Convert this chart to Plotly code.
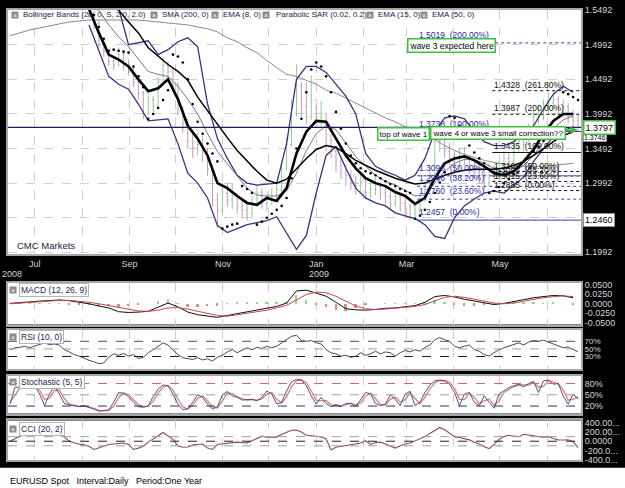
import pandas as pd
import plotly.graph_objects as go

# ---------------- time grids ----------------
GRID_START = pd.Timestamp("2008-06-14 20:40")
STEP_WIDE = pd.Timedelta(days=6.4558)
STEP_FINE = pd.Timedelta(days=3.2279)
BAR_START = pd.Timestamp("2008-08-05 12:10")
X_RANGE = ["2008-06-13 14:00", "2009-06-23 00:00"]

month_ticks = ["2008-07-01", "2008-08-01", "2008-09-01", "2008-10-01", "2008-11-01", "2008-12-01",
               "2009-01-01", "2009-02-01", "2009-03-01", "2009-04-01", "2009-05-01", "2009-06-01"]
month_labels = ["Jul", "", "Sep", "", "Nov", "", "Jan", "", "Mar", "", "May", ""]

price_ticks = [1.5492, 1.4992, 1.4492, 1.3992, 1.3492, 1.2992, 1.2492, 1.1992]
price_tick_text = ["1.5492", "1.4992", "1.4492", "1.3992", "1.3492", "1.2992", "", "1.1992"]

# ---------------- price bars (EURUSD daily, sampled) ----------------
closes = [1.545, 1.530, 1.500, 1.490, 1.475, 1.470, 1.485, 1.470, 1.465, 1.445,
          1.430, 1.400, 1.420, 1.410, 1.445, 1.470, 1.460, 1.440, 1.405, 1.385,
          1.360, 1.350, 1.355, 1.345, 1.320, 1.275, 1.260, 1.285, 1.275, 1.280,
          1.265, 1.260, 1.255, 1.270, 1.285, 1.270, 1.275, 1.280, 1.290, 1.320,
          1.355, 1.400, 1.440, 1.410, 1.395, 1.420, 1.395, 1.400, 1.360, 1.345,
          1.330, 1.315, 1.310, 1.300, 1.295, 1.300, 1.285, 1.290, 1.295, 1.285,
          1.280, 1.270, 1.280, 1.270, 1.265, 1.255, 1.260, 1.275, 1.290, 1.310,
          1.360, 1.360, 1.345, 1.335, 1.325, 1.340, 1.335, 1.320, 1.315, 1.310,
          1.300, 1.320, 1.310, 1.320, 1.335, 1.330, 1.350, 1.360, 1.355, 1.375,
          1.395, 1.395, 1.410, 1.415, 1.420, 1.400, 1.410, 1.395, 1.390, 1.380]
highs = [1.560, 1.548, 1.535, 1.505, 1.492, 1.482, 1.495, 1.490, 1.478, 1.468,
         1.448, 1.432, 1.428, 1.425, 1.452, 1.480, 1.475, 1.465, 1.445, 1.410,
         1.392, 1.375, 1.372, 1.368, 1.350, 1.325, 1.285, 1.300, 1.300, 1.298,
         1.285, 1.278, 1.270, 1.280, 1.298, 1.292, 1.285, 1.292, 1.300, 1.330,
         1.365, 1.420, 1.471, 1.445, 1.445, 1.455, 1.412, 1.418, 1.400, 1.370,
         1.352, 1.338, 1.325, 1.318, 1.310, 1.312, 1.305, 1.302, 1.308, 1.300,
         1.295, 1.288, 1.292, 1.285, 1.278, 1.270, 1.272, 1.285, 1.300, 1.322,
         1.3738, 1.372, 1.365, 1.358, 1.345, 1.350, 1.352, 1.340, 1.330, 1.322,
         1.318, 1.328, 1.325, 1.330, 1.345, 1.342, 1.358, 1.372, 1.368, 1.385,
         1.405, 1.412, 1.420, 1.430, 1.4338, 1.425, 1.420, 1.415, 1.405, 1.400]
lows = [1.538, 1.522, 1.495, 1.482, 1.468, 1.462, 1.468, 1.462, 1.455, 1.438,
        1.420, 1.392, 1.398, 1.400, 1.408, 1.442, 1.450, 1.432, 1.398, 1.372,
        1.350, 1.335, 1.340, 1.330, 1.310, 1.265, 1.235, 1.255, 1.265, 1.262,
        1.255, 1.248, 1.245, 1.248, 1.265, 1.262, 1.258, 1.268, 1.272, 1.285,
        1.318, 1.352, 1.395, 1.395, 1.385, 1.390, 1.385, 1.380, 1.345, 1.335,
        1.315, 1.305, 1.295, 1.290, 1.282, 1.285, 1.275, 1.278, 1.282, 1.275,
        1.268, 1.262, 1.265, 1.258, 1.252, 1.2457, 1.248, 1.255, 1.272, 1.288,
        1.305, 1.345, 1.335, 1.325, 1.315, 1.320, 1.325, 1.312, 1.305, 1.298,
        1.2885, 1.295, 1.302, 1.305, 1.315, 1.320, 1.328, 1.345, 1.345, 1.352,
        1.372, 1.385, 1.390, 1.400, 1.405, 1.392, 1.395, 1.385, 1.380, 1.375]
first_open = 1.552

# ---------------- overlay lines (wide grid) ----------------
ema8 = [None, None, None, None, None, None, None, 1.565, 1.551, 1.5163,
        1.4849, 1.4778, 1.4678, 1.4492, 1.4321, 1.4363, 1.4492, 1.4206, 1.3821, 1.3635,
        1.3392, 1.2992, 1.2920, 1.2806, 1.2706, 1.2678, 1.2778, 1.2735, 1.2920, 1.3420,
        1.3735, 1.3892, 1.3878, 1.3635, 1.3392, 1.3206, 1.3063, 1.2992, 1.2949, 1.2863,
        1.2806, 1.2692, 1.2778, 1.3063, 1.3278, 1.3349, 1.3378, 1.3321, 1.3235, 1.3135,
        1.3106, 1.3163, 1.3306, 1.3478, 1.3706, 1.3892, 1.3992, 1.3992]
ema15 = [None, None, None, None, None, None, None, None, 1.552, 1.5492,
         1.5278, 1.5106, 1.4963, 1.4778, 1.4606, 1.4563, 1.4535, 1.4392, 1.4206, 1.3992,
         1.3706, 1.3449, 1.3278, 1.3106, 1.2920, 1.2820, 1.2806, 1.2806, 1.2878, 1.3135,
         1.3463, 1.3706, 1.3821, 1.3763, 1.3563, 1.3378, 1.3235, 1.3106, 1.3020, 1.2963,
         1.2892, 1.2806, 1.2820, 1.2992, 1.3163, 1.3278, 1.3335, 1.3335, 1.3278, 1.3206,
         1.3149, 1.3163, 1.3249, 1.3392, 1.3592, 1.3778, 1.3906, 1.3963]
ema50 = [None, None, None, None, None, None, None, None, None, None,
         1.556, 1.5492, 1.5321, 1.5163, 1.4949, 1.4821, 1.4706, 1.4606, 1.4478, 1.4235,
         1.4035, 1.3849, 1.3649, 1.3463, 1.3306, 1.3163, 1.3035, 1.2992, 1.3049, 1.3206,
         1.3349, 1.3478, 1.3535, 1.3506, 1.3420, 1.3321, 1.3249, 1.3178, 1.3120, 1.3063,
         1.3020, 1.2978, 1.2992, 1.3049, 1.3106, 1.3149, 1.3178, 1.3192, 1.3192, 1.3192,
         1.3206, 1.3249, 1.3306, 1.3392, 1.3492, 1.3592, 1.3678, 1.3735]
sma200 = [1.5121, 1.5163, 1.5206, 1.5235, 1.5264, 1.5292, 1.5321, 1.5335, 1.5349, 1.5349,
          1.5349, 1.5349, 1.5349, 1.5349, 1.5335, 1.5321, 1.5306, 1.5292, 1.5278, 1.5249,
          1.5221, 1.5178, 1.5092, 1.5035, 1.4949, 1.4878, 1.4763, 1.4663, 1.4563, 1.4535,
          1.4478, 1.4421, 1.4335, 1.4292, 1.4221, 1.4149, 1.4078, 1.4006, 1.3935, 1.3878,
          1.3806, 1.3749, 1.3692, 1.3621, 1.3535, 1.3463, 1.3406, 1.3363, 1.3321, 1.3292,
          1.3263, 1.3249, 1.3235, 1.3235, 1.3235, 1.3249, 1.3263, 1.3278]
bb_upper = [None, None, None, None, None, None, None, None, None, None,
            1.580, 1.5520, 1.4992, 1.5021, 1.5049, 1.4849, 1.4921, 1.5035, 1.5092, 1.4963,
            1.4135, 1.3635, 1.3349, 1.3106, 1.2992, 1.2963, 1.2978, 1.2992, 1.3563, 1.4492,
            1.4678, 1.4678, 1.4592, 1.4421, 1.4249, 1.3992, 1.3420, 1.3235, 1.3163, 1.3106,
            1.3035, 1.3106, 1.3349, 1.3735, 1.3935, 1.3963, 1.3921, 1.3735, 1.3592, 1.3535,
            1.3535, 1.3592, 1.3706, 1.3821, 1.4063, 1.4278, 1.4392, 1.4306]
bb_lower = [None, None, None, None, None, None, None, None, 1.5278, 1.4921,
            1.4535, 1.4421, 1.4349, 1.4135, 1.3892, 1.3906, 1.3921, 1.3563, 1.3135, 1.2992,
            1.2778, 1.2378, 1.2278, 1.2335, 1.2392, 1.2421, 1.2449, 1.2506, 1.2278, 1.2035,
            1.2235, 1.2849, 1.3392, 1.3521, 1.3206, 1.2920, 1.2778, 1.2706, 1.2663, 1.2563,
            1.2520, 1.2478, 1.2392, 1.2221, 1.2192, 1.2492, 1.2663, 1.2763, 1.2849, 1.2878,
            1.2849, 1.2963, 1.3078, 1.3306, 1.3492, 1.3663, 1.3749, 1.3806]

# Parabolic SAR (bar grid)
sar = [None, 1.5421, 1.5249, 1.5078, 1.4906, 1.4921, 1.4906, 1.4892, 1.4878, 1.4678,
       1.4535, 1.4378, 1.3921, 1.3992, 1.4078, 1.4192, 1.4335, 1.4849, 1.4821, 1.4735,
       1.4492, 1.4135, 1.3878, 1.3706, 1.3563, 1.3420, 1.3306, 1.2335, 1.2363, 1.2392,
       1.2406, 1.2949, 1.2906, 1.2849, 1.2392, 1.2435, 1.2492, 1.2549, 1.2606, 1.2663,
       1.2778, 1.3063, 1.3492, 1.3921, 1.4306, 1.4635, 1.4735, 1.4678, 1.4535, 1.4306,
       1.4021, 1.3778, 1.3563, 1.3392, 1.3278, 1.3206, 1.3163, 1.3135, 1.3106, 1.3063,
       1.3020, 1.2978, 1.2949, 1.2906, 1.2878, 1.2849, 1.2478, 1.2520, 1.2606, 1.2720,
       1.2850, 1.3000, 1.3150, 1.3963, 1.3935, 1.3821, 1.3678, 1.3535, 1.3435, 1.3349,
       1.3278, 1.2849, 1.2878, 1.2935, 1.2992, 1.3049, 1.3120, 1.3220, 1.3306, 1.3392,
       1.3449, 1.3521, 1.3606, 1.3678, 1.3735, 1.3778, 1.4306, 1.4278, 1.4235, 1.4192]

# ---------------- fibonacci / annotations ----------------
BLUE_FIB_START = "2009-03-08"
BLACK_FIB_START = "2009-04-26"
blue_fib_levels = [1.5019, 1.3738, 1.3098, 1.2946, 1.2760, 1.2457]
blue_fib_pcts = ["200.00%", "100.00%", "50.00%", "38.20%", "23.60%", "0.00%"]
blue_fib_dash = ["dot", "solid", "dot", "dot", "dot", "solid"]
black_fib_levels = [1.4328, 1.3987, 1.3435, 1.3160, 1.3095, 1.3015, 1.2885]
black_fib_pcts = ["261.80%", "200.00%", "100.00%", "50.00%", "38.20%", "23.60%", "0.00%"]
black_fib_dash = ["dot", "dot", "solid", "dot", "dot", "dot", "dot"]
last_price = 1.3797
hidden_price = 1.3746
low_marker = 1.2460

# ---------------- MACD (wide grid) ----------------
macd = [0.001, 0.004, 0.005, 0.007, 0.009, 0.010, 0.008, 0.004, 0.000, -0.006,
        -0.011, -0.021, -0.023, -0.022, -0.020, -0.009, 0.002, -0.008, -0.022, -0.029,
        -0.033, -0.036, -0.031, -0.026, -0.022, -0.018, -0.013, -0.007, 0.002, 0.034,
        0.036, 0.029, 0.020, 0.004, -0.013, -0.016, -0.017, -0.015, -0.012, -0.011,
        -0.008, -0.005, 0.004, 0.019, 0.022, 0.018, 0.012, 0.007, 0.002, -0.002,
        0.001, 0.005, 0.011, 0.016, 0.018, 0.022, 0.021, 0.016]
macd_signal = [0.000, 0.002, 0.004, 0.006, 0.008, 0.009, 0.009, 0.007, 0.004, 0.000,
               -0.005, -0.011, -0.016, -0.019, -0.020, -0.017, -0.011, -0.010, -0.014, -0.020,
               -0.026, -0.031, -0.033, -0.029, -0.025, -0.021, -0.017, -0.011, -0.004, 0.010,
               0.025, 0.031, 0.029, 0.020, 0.006, -0.006, -0.013, -0.015, -0.014, -0.012,
               -0.010, -0.007, -0.002, 0.008, 0.017, 0.020, 0.017, 0.012, 0.006, 0.002,
               0.000, 0.002, 0.007, 0.012, 0.016, 0.019, 0.021, 0.019]

# ---------------- oscillators (fine grid) ----------------
rsi = [48, 53, 54, 57, 53, 57, 63, 66, 61, 63,
       60, 48, 42, 35, 31, 25, 20, 16, 11, 13,
       28, 37, 33, 38, 31, 35, 25, 28, 40, 48,
       57, 66, 60, 48, 35, 27, 25, 22, 27, 21,
       24, 18, 28, 33, 42, 48, 40, 46, 53, 48,
       54, 51, 57, 53, 57, 66, 74, 83, 86, 72,
       70, 72, 66, 63, 48, 40, 37, 31, 33, 28,
       31, 40, 33, 37, 44, 37, 42, 40, 31, 40,
       46, 42, 48, 44, 54, 60, 74, 80, 74, 70,
       57, 53, 57, 60, 48, 44, 35, 31, 40, 48,
       53, 57, 61, 66, 60, 68, 72, 70, 73, 68,
       61, 57, 53, 55, 48, 42]
stoch_k = [25, 69, 71, 74, 71, 74, 52, 21, 52, 74,
           52, 27, 23, 21, 18, 21, 17, 12, 6, 7,
           10, 30, 56, 54, 45, 30, 18, 17, 21, 45,
           65, 76, 74, 52, 25, 10, 13, 30, 50, 43,
           25, 12, 18, 50, 59, 47, 43, 36, 36, 38,
           34, 43, 60, 52, 25, 30, 60, 85, 91, 89,
           74, 47, 25, 43, 27, 18, 24, 18, 27, 27,
           18, 38, 56, 52, 27, 21, 25, 50, 38, 21,
           52, 59, 21, 30, 56, 76, 87, 89, 87, 78,
           56, 21, 52, 56, 30, 21, 47, 30, 14, 52,
           60, 69, 74, 78, 71, 80, 85, 56, 87, 89,
           78, 80, 47, 25, 52, 38]
stoch_d = [30, 50, 68, 72, 72, 72, 62, 38, 40, 62,
           62, 40, 25, 22, 20, 20, 18, 14, 9, 7,
           8, 20, 42, 55, 50, 38, 24, 18, 19, 33,
           55, 70, 75, 63, 38, 18, 12, 22, 40, 47,
           34, 18, 15, 34, 55, 53, 45, 40, 36, 37,
           36, 39, 52, 56, 38, 28, 45, 72, 88, 90,
           82, 60, 36, 34, 35, 23, 21, 21, 23, 27,
           23, 28, 47, 54, 40, 24, 23, 38, 44, 30,
           37, 56, 40, 26, 43, 66, 82, 88, 88, 83,
           67, 38, 37, 54, 43, 26, 34, 39, 22, 33,
           56, 65, 72, 76, 75, 76, 83, 70, 72, 88,
           84, 79, 63, 36, 38, 45]
cci = [0, 60, 110, 150, 170, 175, 130, 140, 170, 230,
       130, 100, 0, -40, -64, -80, -110, -180, -150, -110,
       -70, -60, -50, -40, -70, -180, -150, -110, -20, 60,
       120, 190, 120, 40, -100, -130, -125, -80, -70, -60,
       -150, -180, -70, -60, -50, -40, -20, -30, -35, 10,
       60, 110, 90, 95, 90, 150, 200, 240, 245, 200,
       130, 120, 110, 95, 50, -190, -130, -110, -90, -80,
       -64, -40, 10, -70, -30, -20, -60, -100, -150, -100,
       -60, -40, 10, 60, 100, 170, 240, 300, 250, 180,
       100, 80, 50, 30, -20, -60, -120, -160, -70, 40,
       100, 130, 110, 100, 150, 130, 120, 100, 90, 100,
       60, 30, 25, 30, -10, -140]
rsi_levels = [70, 50, 30]
stoch_levels = [80, 50, 20]
cci_levels = [100, 0, -100]

# ---------------- build ----------------
def grid(start, step, n):
    return [start + i * step for i in range(n)]

d_wide = grid(GRID_START, STEP_WIDE, len(ema8))
d_fine = grid(GRID_START, STEP_FINE, len(rsi))
d_bar = grid(BAR_START, STEP_FINE, len(closes))
opens = [first_open] + closes[:-1]
macd_hist = [m - s for m, s in zip(macd, macd_signal)]

FONT = "Liberation Sans, Arial, sans-serif"
fig = go.Figure()

fig.add_trace(go.Ohlc(x=d_bar, open=opens, high=highs, low=lows, close=closes,
                      increasing=dict(line=dict(color="#8fcf8f", width=1)),
                      decreasing=dict(line=dict(color="#c79bb5", width=1)),
                      tickwidth=0.25, xaxis="x", yaxis="y", hoverinfo="skip"))
fig.add_trace(go.Scatter(x=d_wide, y=sma200, mode="lines", line=dict(color="#8a8a8a", width=1), xaxis="x", yaxis="y"))
fig.add_trace(go.Scatter(x=d_wide, y=bb_upper, mode="lines", line=dict(color="#3f2d86", width=1.3), xaxis="x", yaxis="y"))
fig.add_trace(go.Scatter(x=d_wide, y=bb_lower, mode="lines", line=dict(color="#3f2d86", width=1.3), xaxis="x", yaxis="y"))
fig.add_trace(go.Scatter(x=d_wide, y=ema15, mode="lines", line=dict(color="#7d7090", width=1), xaxis="x", yaxis="y"))
fig.add_trace(go.Scatter(x=d_wide, y=ema50, mode="lines", line=dict(color="#000000", width=1.5), xaxis="x", yaxis="y"))
fig.add_trace(go.Scatter(x=d_wide, y=ema8, mode="lines", line=dict(color="#000000", width=2.6), xaxis="x", yaxis="y"))
fig.add_trace(go.Scatter(x=d_bar, y=sar, mode="markers", marker=dict(color="#000000", size=2.6), xaxis="x", yaxis="y"))

# MACD
fig.add_trace(go.Bar(x=d_wide, y=macd_hist, width=1.2 * 86400000,
                     marker=dict(color=["#8fdc8f" if v >= 0 else "#e08a8a" for v in macd_hist], line=dict(width=0)),
                     xaxis="x2", yaxis="y2"))
fig.add_trace(go.Scatter(x=d_wide, y=macd, mode="lines", line=dict(color="#101010", width=1), xaxis="x2", yaxis="y2"))
fig.add_trace(go.Scatter(x=d_wide, y=macd_signal, mode="lines", line=dict(color="#c84848", width=1), xaxis="x2", yaxis="y2"))
# RSI
fig.add_trace(go.Scatter(x=d_fine, y=rsi, mode="lines", line=dict(color="#4a4a4a", width=1), xaxis="x3", yaxis="y3"))
# Stochastic
fig.add_trace(go.Scatter(x=d_fine, y=stoch_d, mode="lines", line=dict(color="#d88080", width=1.3), xaxis="x4", yaxis="y4"))
fig.add_trace(go.Scatter(x=d_fine, y=stoch_k, mode="lines", line=dict(color="#4a3c78", width=0.9), xaxis="x4", yaxis="y4"))
# CCI
fig.add_trace(go.Scatter(x=d_fine, y=cci, mode="lines", line=dict(color="#8c4c5c", width=1.1), xaxis="x5", yaxis="y5"))

# ---------------- axes ----------------
frame = dict(showline=True, mirror=True, linecolor="#a6a6a6", linewidth=2)
xgrid = dict(type="date", range=X_RANGE, tickvals=month_ticks, showgrid=True, griddash="dash",
             gridcolor="#cfcfcf", gridwidth=1, zeroline=False, ticks="", **frame)
tickfont = dict(family=FONT, size=9, color="#d4d4d4")
tickfont_small = dict(family=FONT, size=8, color="#d4d4d4")

domains = {"y": [0.4642, 1.0], "y2": [0.3102, 0.4013], "y3": [0.2126, 0.2993],
           "y4": [0.1150, 0.1974], "y5": [0.0130, 0.0998]}

layout = dict(
    width=625, height=488, margin=dict(l=8, r=37, t=5, b=22),
    paper_bgcolor="#000000", plot_bgcolor="#ffffff", showlegend=False,
    font=dict(family=FONT, size=9), bargap=0,
    xaxis=dict(anchor="y", ticktext=month_labels, tickfont=tickfont, rangeslider=dict(visible=False), **xgrid),
    yaxis=dict(domain=domains["y"], side="right", range=[1.1963, 1.5494], tickvals=price_ticks,
               ticktext=price_tick_text, tickfont=tickfont, showgrid=True, griddash="dash",
               gridcolor="#cfcfcf", zeroline=False, ticks="", **frame),
)
for i, (rng, tv, tt, tf) in zip(range(2, 6), [
        ([-0.055, 0.055], [0.05, 0.025, 0, -0.025, -0.05], ["0.0500", "0.0250", "0.0000", "-0.0250", "-0.0500"], tickfont),
        ([-3, 101], rsi_levels, ["70%", "50%", "30%"], tickfont_small),
        ([0, 100], stoch_levels, ["80%", "50%", "20%"], tickfont),
        ([-410, 451], [400, 200, 0, -200, -400], ["400.00...", "200.00...", "0.0000", "-200.0...", "-400.0..."], tickfont)]):
    layout[f"xaxis{i}"] = dict(anchor=f"y{i}", matches="x", showticklabels=False, ticktext=[""] * 12, **xgrid)
    layout[f"yaxis{i}"] = dict(domain=domains[f"y{i}"], anchor=f"x{i}", side="right", range=rng, tickvals=tv,
                               ticktext=tt, tickfont=tf, showgrid=False, zeroline=False, ticks="", **frame)
fig.update_layout(**layout)

# ---------------- shapes ----------------
shapes = [dict(type="rect", xref="paper", yref="paper", x0=-0.03, x1=1.08, y0=-0.06, y1=-0.004,
               fillcolor="#ffffff", line=dict(width=0), layer="below")]
for lv, ds in zip(blue_fib_levels, blue_fib_dash):
    shapes.append(dict(type="line", xref="x", yref="y", x0=BLUE_FIB_START, x1=X_RANGE[1], y0=lv, y1=lv,
                       line=dict(color="#3a3ab4", width=1, dash=ds)))
for lv, ds in zip(black_fib_levels, black_fib_dash):
    shapes.append(dict(type="line", xref="x", yref="y", x0=BLACK_FIB_START, x1=X_RANGE[1], y0=lv, y1=lv,
                       line=dict(color="#111111", width=1, dash=ds)))
shapes.append(dict(type="line", xref="paper", yref="y", x0=0, x1=1, y0=last_price, y1=last_price,
                   line=dict(color="#1c1c5c", width=1.3)))
for lv, col in zip(rsi_levels, ["#505050", "#a0a0a0", "#202020"]):
    shapes.append(dict(type="line", xref="paper", yref="y3", x0=0, x1=1, y0=lv, y1=lv, line=dict(color=col, width=1, dash="dash")))
for lv, col in zip(stoch_levels, ["#d06868", "#a0a0a0", "#303080"]):
    shapes.append(dict(type="line", xref="paper", yref="y4", x0=0, x1=1, y0=lv, y1=lv, line=dict(color=col, width=1, dash="dash")))
for lv, col in zip(cci_levels, ["#a0a0a0", "#202020", "#a0a0a0"]):
    shapes.append(dict(type="line", xref="paper", yref="y5", x0=0, x1=1, y0=lv, y1=lv, line=dict(color=col, width=1, dash="dash")))
fig.update_layout(shapes=shapes)

# ---------------- annotations ----------------
ann = []
def icon(xp, yp):
    return dict(xref="paper", yref="paper", x=xp, y=yp, text="×", showarrow=False,
                font=dict(size=7, color="#ffffff", family=FONT), bgcolor="#8a8a8a",
                width=6, height=6, borderpad=0, xanchor="center", yanchor="middle")

legend_items = [("Bollinger Bands (20, 0, S, 2.0, 2.0)", 0.0121, 0.0224),
                ("SMA (200, 0)", 0.2543, 0.2655), ("EMA (8, 0)", 0.3612, 0.3724),
                ("Parabolic SAR (0.02, 0.2)", 0.4509, 0.4638), ("EMA (15, 0)", 0.6319, 0.6414),
                ("EMA (50, 0)", 0.7267, 0.7362)]
for txt, xi, xt in legend_items:
    ann.append(icon(xi, 0.9892))
    ann.append(dict(xref="paper", yref="paper", x=xt, y=0.9892, text=txt, showarrow=False, xanchor="left",
                    yanchor="middle", font=dict(size=8, color="#1c1c50", family=FONT)))

panel_labels = [("MACD (12, 26, 9)", 0.385), ("RSI (10, 0)", 0.282), ("Stochastic (5, 5)", 0.1833), ("CCI (20, 2)", 0.0813)]
for txt, yp in panel_labels:
    ann.append(dict(xref="paper", yref="paper", x=0.0185, y=yp, text=txt, showarrow=False,
                    xanchor="left", yanchor="middle", bgcolor="#ffffff", bordercolor="#b4b4b4", borderwidth=1,
                    borderpad=1, font=dict(size=8.5, color="#1c1c50", family=FONT)))
    ann.append(icon(0.0095, yp))

for lv, pct in zip(blue_fib_levels, blue_fib_pcts):
    ann.append(dict(xref="x", yref="y", x=BLUE_FIB_START, y=lv, text=f"{lv:.4f}\u00a0\u00a0({pct})", showarrow=False,
                    xanchor="left", yanchor="bottom", yshift=1, font=dict(size=8.5, color="#2a2aa8", family=FONT)))
for lv, pct in zip(black_fib_levels, black_fib_pcts):
    ann.append(dict(xref="x", yref="y", x=BLACK_FIB_START, y=lv, text=f"{lv:.4f}\u00a0\u00a0({pct})", showarrow=False,
                    xanchor="left", yanchor="bottom", yshift=-1, font=dict(size=8.5, color="#111111", family=FONT)))

box = dict(bgcolor="#ffffff", bordercolor="#3cc03c", borderwidth=1.5, borderpad=1,
           font=dict(size=8, color="#000000", family=FONT), showarrow=False)
box9 = dict(box); box9["font"] = dict(size=8.5, color="#000000", family=FONT)
ann.append(dict(xref="x", yref="y", x="2009-03-01 12:00", y=1.4975, text="wave 3 expected here",
                xanchor="left", yanchor="middle", **box9))
ann.append(dict(xref="x", yref="y", x="2009-02-09 10:00", y=1.3706, text="top of wave 1",
                xanchor="left", yanchor="middle", **box))
box_arrow = dict(box); box_arrow["showarrow"] = True
ann.append(dict(xref="x", yref="y", x="2009-06-21", y=1.3760, ax=-80, ay=3,
                text="wave 4 or wave 3 small correction??", arrowhead=2, arrowsize=1, arrowwidth=1.5,
                arrowcolor="#3cc03c", **box_arrow))

ann.append(dict(xref="paper", yref="y", x=1.0035, y=hidden_price, text=f"{hidden_price:.4f}", showarrow=False,
                xanchor="left", yanchor="top", yshift=-2, bgcolor="#ffffff", bordercolor="#909090", borderwidth=1,
                borderpad=0, font=dict(size=7, color="#000000", family=FONT)))
ann.append(dict(xref="paper", yref="y", x=1.0035, y=last_price, text=f"{last_price:.4f}", showarrow=False,
                xanchor="left", yanchor="middle", bgcolor="#ffffff", bordercolor="#3cc03c", borderwidth=1.5,
                borderpad=1, font=dict(size=9, color="#000000", family=FONT)))
ann.append(dict(xref="paper", yref="y", x=1.0035, y=low_marker, text=f"{low_marker:.4f}", showarrow=False,
                xanchor="left", yanchor="middle", bgcolor="#ffffff", bordercolor="#909090", borderwidth=1,
                borderpad=1, font=dict(size=9, color="#000000", family=FONT)))

ann.append(dict(xref="paper", yref="paper", x=0.012, y=0.4837, text="CMC Markets", showarrow=False,
                xanchor="left", yanchor="middle", font=dict(size=9.5, color="#1c1c40", family=FONT)))
ann.append(dict(xref="paper", yref="paper", x=-0.0138, y=0.4208, text="2008", showarrow=False,
                xanchor="left", yanchor="middle", font=tickfont))
ann.append(dict(xref="paper", yref="paper", x=0.5431, y=0.4208, text="2009", showarrow=False,
                xanchor="center", yanchor="middle", font=tickfont))
ann.append(dict(xref="paper", yref="paper", x=0.0, y=-0.0325,
                text="EURUSD Spot\u00a0\u00a0\u00a0Interval:Daily\u00a0\u00a0\u00a0Period:One Year",
                showarrow=False, xanchor="left", yanchor="middle", font=dict(size=9, color="#000000", family=FONT)))
fig.update_layout(annotations=ann)

fig.write_html("out.html")
